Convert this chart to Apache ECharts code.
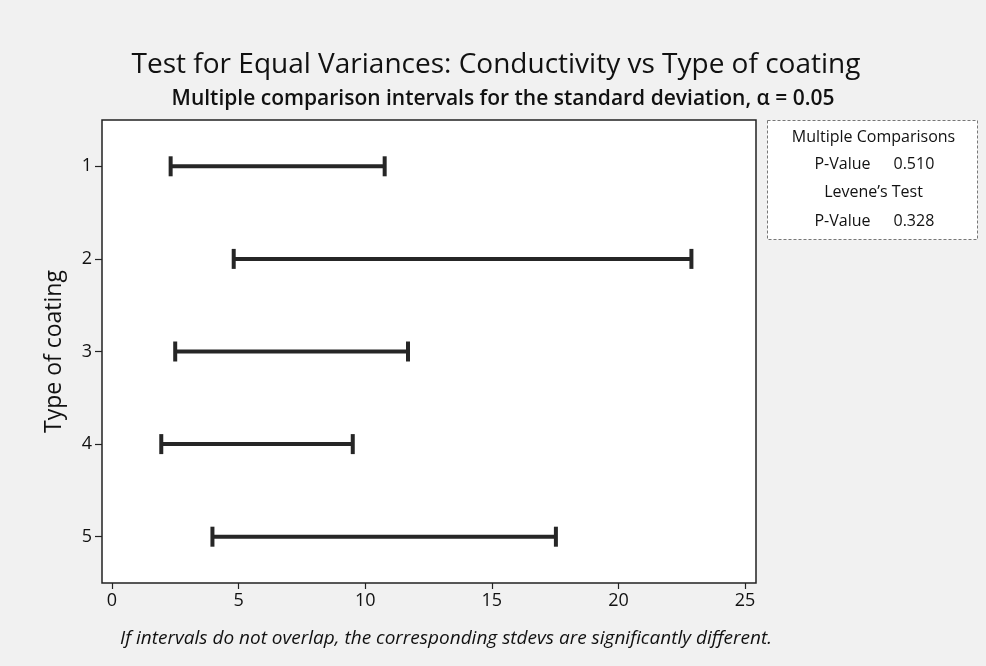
<!DOCTYPE html>
<html>
<head>
<meta charset="utf-8">
<script src="https://cdn.jsdelivr.net/npm/echarts@6/dist/echarts.min.js"></script>
<style>
  html, body { margin: 0; padding: 0; background: #f1f1f1; }
  #chart { width: 986px; height: 666px; }
</style>
</head>
<body>
<div id="chart"></div>
<script>
// Bonferroni intervals for the standard deviation of conductivity, by coating type
const coatingTypes = ['1', '2', '3', '4', '5'];
const lowerBounds = [2.32, 4.81, 2.50, 1.95, 3.97];
const upperBounds = [10.77, 22.88, 11.69, 9.51, 17.53];
const xTickValues = [0, 5, 10, 15, 20, 25];

const multipleComparisonsP = '0.510';
const leveneP = '0.328';

const FONT = '"Open Sans", "Noto Sans", sans-serif';
const INK = '#111';

const intervalData = coatingTypes.map((c, i) => [lowerBounds[i], upperBounds[i], c]);

const chart = echarts.init(document.getElementById('chart'));

chart.setOption({
  backgroundColor: '#f1f1f1',
  animation: false,
  grid: {
    left: 102, right: 230, top: 120, bottom: 83,
    show: true, backgroundColor: '#ffffff',
    borderColor: '#222', borderWidth: 1.5
  },
  title: [
    {
      text: 'Test for Equal Variances: Conductivity vs Type of coating',
      left: 491, top: 46, textAlign: 'center',
      textStyle: { fontFamily: FONT, fontSize: 28, fontWeight: 'normal', color: INK }
    },
    {
      text: 'Multiple comparison intervals for the standard deviation, \u03b1 = 0.05',
      left: 498, top: 84, textAlign: 'center',
      textStyle: { fontFamily: FONT, fontSize: 21, fontWeight: 600, color: INK }
    }
  ],
  xAxis: {
    type: 'value',
    min: -0.39, max: 25.43,
    axisLine: { show: false, onZero: false },
    axisTick: { show: true, customValues: xTickValues, length: 6, lineStyle: { color: '#222', width: 1.2 } },
    axisLabel: { customValues: xTickValues, fontFamily: FONT, fontSize: 18, color: INK, margin: 9 },
    splitLine: { show: false }
  },
  yAxis: {
    type: 'category',
    data: coatingTypes,
    inverse: true,
    boundaryGap: true,
    name: 'Type of coating',
    nameLocation: 'middle',
    nameGap: 36,
    nameTextStyle: { fontFamily: FONT, fontSize: 23, color: INK },
    axisLine: { show: false, onZero: false },
    axisTick: { show: true, alignWithLabel: true, length: 7, lineStyle: { color: '#222', width: 1.2 } },
    axisLabel: { fontFamily: FONT, fontSize: 18, color: INK, margin: 10 },
    splitLine: { show: false }
  },
  series: [{
    type: 'custom',
    data: intervalData,
    encode: { x: [0, 1], y: 2 },
    renderItem: function (params, api) {
      const cat = api.value(2);
      const lo = api.coord([api.value(0), cat]);
      const hi = api.coord([api.value(1), cat]);
      const capHalf = 10;
      const style = { stroke: '#262626', lineWidth: 4 };
      return {
        type: 'group',
        children: [
          { type: 'line', shape: { x1: lo[0], y1: lo[1], x2: hi[0], y2: hi[1] }, style: style },
          { type: 'line', shape: { x1: lo[0], y1: lo[1] - capHalf, x2: lo[0], y2: lo[1] + capHalf }, style: style },
          { type: 'line', shape: { x1: hi[0], y1: hi[1] - capHalf, x2: hi[0], y2: hi[1] + capHalf }, style: style }
        ]
      };
    }
  }],
  graphic: [
    {
      type: 'group', left: 767, top: 120,
      children: [
        { type: 'rect', shape: { x: 0, y: 0, width: 210, height: 119 },
          style: { fill: '#ffffff', stroke: '#777', lineWidth: 1, lineDash: [3, 2] } },
        { type: 'text', x: 106, y: 17, style: { text: 'Multiple Comparisons', textAlign: 'center', textVerticalAlign: 'middle',
          font: '16px ' + FONT, fill: INK } },
        { type: 'text', x: 103, y: 44, style: { text: 'P-Value', textAlign: 'right', textVerticalAlign: 'middle',
          font: '16px ' + FONT, fill: INK } },
        { type: 'text', x: 126, y: 44, style: { text: multipleComparisonsP, textAlign: 'left', textVerticalAlign: 'middle',
          font: '16px ' + FONT, fill: INK } },
        { type: 'text', x: 106, y: 72, style: { text: 'Levene\u2019s Test', textAlign: 'center', textVerticalAlign: 'middle',
          font: '16px ' + FONT, fill: INK } },
        { type: 'text', x: 103, y: 101, style: { text: 'P-Value', textAlign: 'right', textVerticalAlign: 'middle',
          font: '16px ' + FONT, fill: INK } },
        { type: 'text', x: 126, y: 101, style: { text: leveneP, textAlign: 'left', textVerticalAlign: 'middle',
          font: '16px ' + FONT, fill: INK } }
      ]
    },
    {
      type: 'text', left: 120, top: 629,
      style: { text: 'If intervals do not overlap, the corresponding stdevs are significantly different.',
        font: 'italic 19px ' + FONT, fill: INK }
    }
  ]
});
</script>
</body>
</html>
